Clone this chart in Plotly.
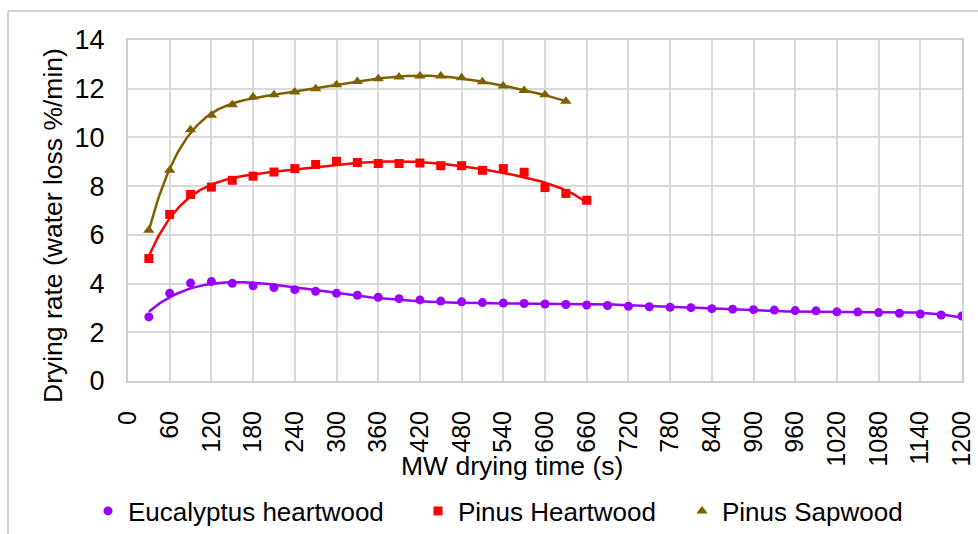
import numpy as np
import plotly.graph_objects as go

# Drying time (s) for each series
time_eucalyptus = [30, 60, 90, 120, 150, 180, 210, 240, 270, 300,
                   330, 360, 390, 420, 450, 480, 510, 540, 570, 600,
                   630, 660, 690, 720, 750, 780, 810, 840, 870, 900,
                   930, 960, 990, 1020, 1050, 1080, 1110, 1140, 1170, 1200]
time_pinus_heart = [30, 60, 90, 120, 150, 180, 210, 240, 270, 300, 330,
                    360, 390, 420, 450, 480, 510, 540, 570, 600, 630, 660]
time_pinus_sap = [30, 60, 90, 120, 150, 180, 210, 240, 270, 300, 330,
                  360, 390, 420, 450, 480, 510, 540, 570, 600, 630]

# Drying rate (water loss %/min)
rate_eucalyptus = [2.63, 3.60, 4.02, 4.08, 4.01, 3.91, 3.84, 3.75, 3.68, 3.60,
                   3.52, 3.44, 3.38, 3.33, 3.28, 3.25, 3.22, 3.20, 3.18, 3.16,
                   3.14, 3.12, 3.10, 3.07, 3.05, 3.03, 3.01, 2.97, 2.95, 2.93,
                   2.91, 2.89, 2.88, 2.84, 2.83, 2.81, 2.78, 2.75, 2.71, 2.67]
rate_pinus_heart = [5.03, 6.84, 7.66, 7.96, 8.24, 8.41, 8.58, 8.72, 8.89, 9.02, 8.97,
                    8.93, 8.93, 8.95, 8.84, 8.84, 8.65, 8.72, 8.57, 7.94, 7.70, 7.42]
rate_pinus_sap = [6.19, 8.65, 10.32, 10.91, 11.34, 11.66, 11.75, 11.86, 12.00, 12.16, 12.30,
                  12.41, 12.48, 12.52, 12.52, 12.45, 12.29, 12.11, 11.93, 11.75, 11.49]

series_names = ["Eucalyptus heartwood", "Pinus Heartwood", "Pinus Sapwood"]
series_colors = ["#9900FF", "#FF0000", "#7F6000"]
series_symbols = ["circle", "square", "triangle-up"]
series_sizes = [9, 9, 10]

x_ticks = [0, 60, 120, 180, 240, 300, 360, 420, 480, 540, 600, 660,
           720, 780, 840, 900, 960, 1020, 1080, 1140, 1200]
y_ticks = [0, 2, 4, 6, 8, 10, 12, 14]

FONT = "Liberation Sans, Arial, sans-serif"


def poly_trend(x, y, degree=6, n=300):
    """Order-6 polynomial trendline over the range of the data."""
    x = np.asarray(x, float)
    y = np.asarray(y, float)
    mid, half = (x.max() + x.min()) / 2, (x.max() - x.min()) / 2
    coef = np.polyfit((x - mid) / half, y, degree)
    xs = np.linspace(x.min(), x.max(), n)
    return xs, np.polyval(coef, (xs - mid) / half)


fig = go.Figure()

datasets = [(time_eucalyptus, rate_eucalyptus),
            (time_pinus_heart, rate_pinus_heart),
            (time_pinus_sap, rate_pinus_sap)]
legend_ids = ["legend", "legend2", "legend3"]

for i, (xs, ys) in enumerate(datasets):
    tx, ty = poly_trend(xs, ys)
    fig.add_trace(go.Scatter(
        x=tx, y=ty, mode="lines",
        line=dict(color=series_colors[i], width=2.5),
        showlegend=False, hoverinfo="skip"))
    fig.add_trace(go.Scatter(
        x=xs, y=ys, mode="markers", name=series_names[i],
        marker=dict(symbol=series_symbols[i], size=series_sizes[i],
                    color=series_colors[i]),
        legend=legend_ids[i]))

W, H = 978, 534
L, R, T, B = 128, 16, 40, 153
pw, ph = W - L - R, H - T - B


def px_x(p):
    return (p - L) / pw


def px_y(p):
    return (H - B - p) / ph


legend_common = dict(orientation="h", yanchor="middle", xanchor="left",
                     xref="container", yref="container",
                     font=dict(family=FONT, size=26, color="#000000"),
                     bgcolor="rgba(0,0,0,0)", borderwidth=0)

fig.update_layout(
    width=W, height=H,
    margin=dict(l=L, r=R, t=T, b=B, pad=0, autoexpand=False),
    paper_bgcolor="white", plot_bgcolor="white",
    font=dict(family=FONT, color="#000000"),
    legend=dict(x=88 / W, y=1 - 511 / H, **legend_common),
    legend2=dict(x=418 / W, y=1 - 511 / H, **legend_common),
    legend3=dict(x=682 / W, y=1 - 511 / H, **legend_common),
    xaxis=dict(
        range=[0, 1200], tickmode="array", tickvals=x_ticks,
        ticktext=[str(v) for v in x_ticks], tickangle=-90,
        tickfont=dict(family=FONT, size=25, color="#000000"),
        showgrid=True, gridcolor="#D9D9D9", gridwidth=2,
        showline=True, linecolor="#D0D0D0", linewidth=2, mirror=True,
        zeroline=False, ticks="", ticklabelstandoff=18),
    yaxis=dict(
        range=[0, 14], tickmode="array", tickvals=y_ticks,
        tickfont=dict(family=FONT, size=27, color="#000000"),
        showgrid=True, gridcolor="#D9D9D9", gridwidth=2,
        showline=True, linecolor="#D0D0D0", linewidth=2, mirror=True,
        zeroline=False, ticks="", ticklabelstandoff=16),
    annotations=[
        dict(text="Drying rate (water loss %/min)", textangle=-90,
             xref="paper", yref="paper", x=px_x(53), y=px_y(226),
             xanchor="center", yanchor="middle", showarrow=False,
             font=dict(family=FONT, size=26.5, color="#000000")),
        dict(text="MW drying time (s)",
             xref="paper", yref="paper", x=px_x(512), y=px_y(466),
             xanchor="center", yanchor="middle", showarrow=False,
             font=dict(family=FONT, size=26.5, color="#000000")),
    ],
    shapes=[
        # chart-area frame
        dict(type="rect", xref="paper", yref="paper",
             x0=px_x(8), x1=px_x(W + 40), y0=px_y(H + 40), y1=px_y(11),
             line=dict(color="#A6A6A6", width=1), fillcolor="rgba(0,0,0,0)",
             layer="below"),
    ],
)

fig.write_html("out.html")
